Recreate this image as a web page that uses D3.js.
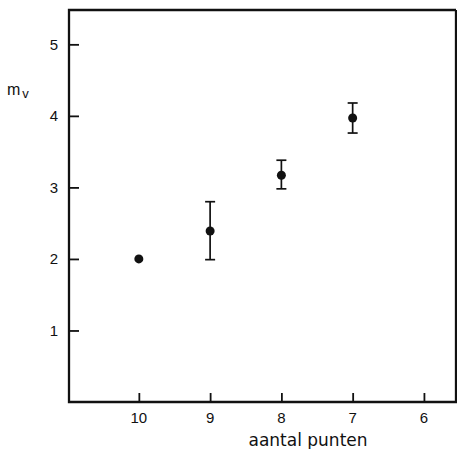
<!DOCTYPE html>
<html>
<head>
<meta charset="utf-8">
<script src="https://cdn.jsdelivr.net/npm/d3@7"></script>
<style>
  body { margin: 0; background: #fff; }
  text { font-family: "Liberation Sans", "DejaVu Sans", sans-serif; fill: #111; }
</style>
</head>
<body>
<svg id="chart" width="457" height="449"></svg>
<script>
// aantal punten vs m_v
const punten = [10, 9, 8, 7];
const mv = [2.0, 2.39, 3.17, 3.97];
const mvLow = [2.0, 1.99, 2.98, 3.76];
const mvHigh = [2.0, 2.80, 3.38, 4.18];
const xTicks = [10, 9, 8, 7, 6];
const yTicks = [1, 2, 3, 4, 5];

const svg = d3.select('#chart');
const mLeft = 69, mRight = 456, mTop = 10, mBottom = 402;

// x runs backwards: 10 at left
const x = d3.scaleLinear().domain([10.98, 5.55]).range([mLeft, mRight]);
const y = d3.scaleLinear().domain([0, 5.48]).range([mBottom, mTop]);

// frame
svg.append('path')
  .attr('d', `M${mRight},${mTop}H${mLeft}V${mBottom}H${mRight}V${mTop}`)
  .attr('fill', 'none').attr('stroke', '#111').attr('stroke-width', 2.3);

// y ticks point inward
svg.append('g')
  .attr('transform', `translate(${mLeft},0)`)
  .call(d3.axisRight(y).tickValues(yTicks).tickSize(10).tickFormat(''))
  .call(g => g.select('.domain').remove())
  .selectAll('line').attr('stroke', '#111').attr('stroke-width', 1.8);

svg.append('g').selectAll('text')
  .data(yTicks).enter().append('text')
  .attr('x', 54).attr('y', d => y(d) + 5.5)
  .attr('text-anchor', 'middle').attr('font-size', 15)
  .text(d => d);

// x ticks point up
svg.append('g')
  .attr('transform', `translate(0,${mBottom})`)
  .call(d3.axisTop(x).tickValues(xTicks).tickSize(9).tickFormat(''))
  .call(g => g.select('.domain').remove())
  .selectAll('line').attr('stroke', '#111').attr('stroke-width', 1.8);

svg.append('g').selectAll('text')
  .data(xTicks).enter().append('text')
  .attr('x', d => x(d)).attr('y', 422.5)
  .attr('text-anchor', 'middle').attr('font-size', 15)
  .text(d => d);

svg.append('text')
  .attr('x', 308).attr('y', 446)
  .attr('text-anchor', 'middle').attr('font-size', 17)
  .style('font-family', '"DejaVu Sans", sans-serif')
  .text('aantal punten');

const lab = svg.append('text').attr('x', 7).attr('y', 95).attr('font-size', 16);
lab.append('tspan').text('m');
lab.append('tspan').attr('dx', 2).attr('dy', 3).attr('font-size', 13).text('v');

// error bars
const data = punten.map((p, i) => ({ p, v: mv[i], lo: mvLow[i], hi: mvHigh[i] }));
const eb = svg.append('g').attr('stroke', '#111').attr('stroke-width', 1.7);
data.filter(d => d.hi > d.lo).forEach(d => {
  eb.append('line').attr('x1', x(d.p)).attr('x2', x(d.p)).attr('y1', y(d.lo)).attr('y2', y(d.hi));
  eb.append('line').attr('x1', x(d.p) - 5).attr('x2', x(d.p) + 5).attr('y1', y(d.lo)).attr('y2', y(d.lo));
  eb.append('line').attr('x1', x(d.p) - 5).attr('x2', x(d.p) + 5).attr('y1', y(d.hi)).attr('y2', y(d.hi));
});

svg.append('g').selectAll('circle')
  .data(data).enter().append('circle')
  .attr('cx', d => x(d.p)).attr('cy', d => y(d.v)).attr('r', 4.5)
  .attr('fill', '#111');
</script>
</body>
</html>
